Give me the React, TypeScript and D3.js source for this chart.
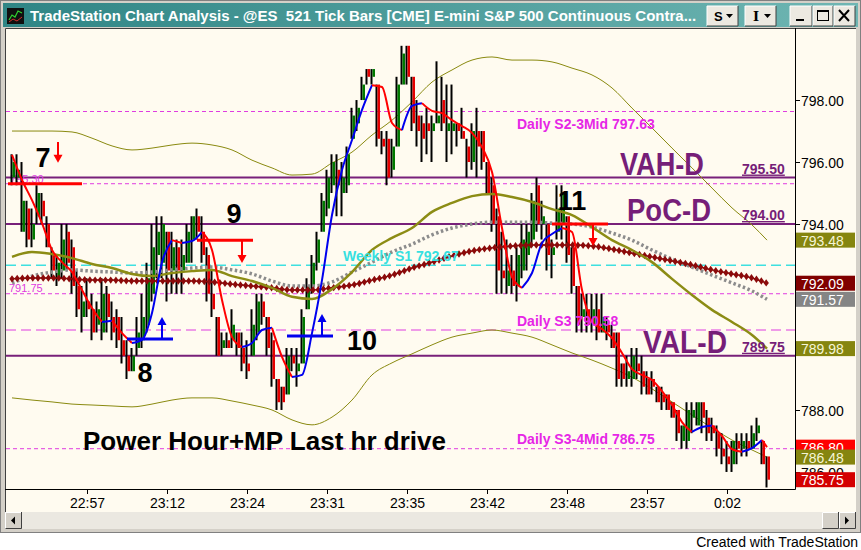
import { useEffect, useRef } from 'react';
import * as d3 from 'd3';

const W = 861;
const H = 550;

// one row per 521-tick bar: [high, low, open, close]
const bars: [number, number, number, number][] = [
  [796.25, 795.25, 795.5, 796.0], [796.25, 795.25, 795.5, 795.75], [796.0, 793.75, 793.75, 794.75], [794.75, 793.25, 794.5, 793.5],
  [794.5, 793.25, 793.5, 794.0], [795.25, 794.0, 794.25, 795.0], [795.0, 794.0, 794.75, 794.25], [794.25, 793.25, 794.0, 793.25],
  [793.25, 792.25, 793.0, 792.5], [793.0, 792.0, 792.25, 792.75], [794.0, 792.25, 792.5, 793.5], [794.0, 792.5, 793.75, 792.75],
  [793.5, 791.75, 793.25, 792.0], [792.5, 791.0, 792.0, 791.25], [792.0, 790.5, 791.0, 791.5], [792.25, 791.0, 791.5, 791.25],
  [791.75, 790.25, 791.25, 790.5], [791.5, 790.5, 790.75, 791.25], [792.25, 790.25, 790.5, 791.75], [792.0, 790.5, 791.75, 791.0],
  [791.5, 790.25, 791.0, 790.5], [791.25, 790.0, 791.0, 790.25], [791.0, 789.5, 790.25, 789.75], [790.25, 789.0, 789.75, 789.25],
  [790.0, 789.25, 789.25, 789.75], [791.0, 789.75, 790.0, 790.5], [791.75, 790.0, 790.25, 791.0], [792.75, 790.5, 790.75, 792.25],
  [794.0, 791.5, 791.75, 793.25], [794.25, 792.25, 793.0, 793.75], [794.25, 792.25, 792.75, 794.0], [793.75, 791.5, 793.75, 792.5],
  [793.75, 791.75, 792.5, 793.25], [793.5, 791.75, 793.25, 792.5], [793.5, 791.75, 792.5, 793.0], [794.0, 792.75, 792.75, 793.75],
  [794.25, 792.75, 793.5, 794.25], [794.5, 793.5, 794.25, 793.75], [794.25, 792.75, 793.75, 793.0], [793.25, 791.5, 793.0, 791.75],
  [792.5, 791.0, 791.75, 791.25], [791.0, 789.75, 791.0, 789.75], [790.5, 789.75, 790.0, 790.25], [790.5, 790.0, 790.25, 790.0],
  [791.25, 790.0, 790.25, 790.75], [790.5, 789.75, 790.5, 790.0], [790.5, 789.25, 790.0, 789.5], [790.25, 789.0, 789.5, 789.25],
  [791.25, 789.75, 789.75, 790.75], [791.75, 790.25, 790.5, 791.5], [791.75, 790.75, 791.5, 791.0], [791.0, 789.75, 791.0, 790.0],
  [790.5, 788.75, 790.25, 789.0], [789.0, 788.0, 789.0, 788.25], [788.75, 788.0, 788.75, 788.25], [790.0, 788.5, 788.5, 789.75],
  [790.0, 789.25, 789.75, 789.5], [790.0, 788.75, 789.25, 789.5], [791.25, 789.5, 789.5, 791.0], [792.25, 791.25, 791.25, 792.0],
  [793.0, 791.75, 792.0, 792.75], [793.75, 792.5, 792.75, 793.5], [795.0, 793.75, 793.75, 794.75], [795.75, 794.25, 794.5, 795.5],
  [796.25, 795.0, 795.25, 796.0], [796.25, 794.25, 795.75, 795.25], [796.0, 794.25, 795.0, 795.5], [796.5, 795.0, 795.25, 796.25],
  [797.75, 796.75, 796.75, 797.5], [798.0, 797.0, 797.25, 797.75], [798.75, 798.0, 798.0, 798.5], [799.0, 798.5, 799.0, 798.75],
  [799.0, 798.5, 798.75, 799.0], [798.5, 796.5, 798.5, 796.75], [797.0, 796.25, 796.75, 796.5], [797.0, 795.25, 796.75, 795.5],
  [796.75, 795.5, 795.75, 796.5], [798.75, 796.5, 796.5, 798.5], [799.75, 798.5, 798.5, 799.5], [799.75, 798.5, 799.75, 798.75],
  [798.75, 797.0, 798.75, 797.25], [798.0, 796.5, 797.5, 797.0], [797.5, 796.0, 797.25, 796.75], [797.75, 796.25, 797.25, 797.0],
  [797.5, 796.0, 797.0, 797.25], [799.25, 797.25, 797.25, 797.5], [798.75, 797.0, 798.0, 797.25], [798.5, 796.0, 797.0, 797.25],
  [798.5, 796.25, 797.0, 797.25], [797.25, 796.5, 797.25, 797.0], [797.75, 796.75, 797.0, 796.75], [796.75, 795.5, 796.5, 796.0],
  [797.25, 795.75, 796.0, 797.0], [797.75, 795.5, 797.0, 796.5], [797.0, 795.75, 797.0, 796.0], [796.0, 795.0, 796.0, 795.0],
  [795.5, 793.75, 795.25, 794.0], [794.5, 791.75, 794.25, 792.5], [793.75, 791.75, 792.5, 792.25], [793.5, 791.75, 792.0, 792.5],
  [793.0, 791.75, 792.5, 792.0], [793.25, 791.5, 792.0, 793.0], [794.0, 792.25, 792.5, 793.5], [794.0, 792.5, 793.0, 793.75],
  [795.0, 793.25, 793.5, 794.75], [795.5, 793.75, 795.25, 794.0], [794.75, 793.5, 794.0, 794.25], [794.0, 792.5, 794.0, 793.0],
  [793.5, 792.25, 793.0, 793.25], [795.25, 793.5, 793.75, 794.5], [795.25, 793.5, 794.0, 795.0], [794.25, 792.75, 794.25, 793.0],
  [793.25, 791.75, 793.25, 792.0], [792.0, 790.5, 792.0, 790.75], [791.75, 790.5, 791.0, 791.25], [791.75, 790.5, 791.25, 790.75],
  [791.75, 790.5, 790.75, 791.25], [791.75, 790.25, 791.25, 790.5], [791.75, 790.5, 790.5, 791.0], [791.0, 790.25, 790.75, 790.5],
  [790.75, 790.0, 790.5, 790.0], [790.5, 788.75, 790.5, 789.0], [789.5, 788.75, 789.5, 789.0], [789.75, 788.75, 789.0, 789.25],
  [790.0, 788.75, 789.0, 789.75], [790.0, 789.0, 789.5, 789.25], [789.75, 788.5, 789.25, 788.75], [789.25, 788.5, 789.0, 788.5],
  [789.25, 788.5, 789.0, 788.75], [788.75, 788.25, 788.75, 788.25], [788.75, 788.0, 788.5, 788.25], [788.5, 788.0, 788.5, 788.0],
  [788.25, 787.75, 788.25, 787.75], [788.0, 787.0, 788.0, 787.25], [787.5, 786.75, 787.0, 787.5], [788.25, 786.75, 787.0, 788.0],
  [788.25, 787.25, 787.75, 788.0], [788.25, 787.5, 787.5, 788.25], [788.25, 787.25, 788.25, 787.75], [788.0, 787.0, 787.75, 787.25],
  [787.75, 787.0, 787.5, 787.25], [787.5, 786.5, 787.25, 786.75], [787.25, 786.25, 786.75, 786.5], [787.0, 786.0, 786.5, 786.25],
  [787.0, 786.0, 786.25, 787.0], [787.25, 786.25, 787.0, 786.75], [787.25, 786.5, 786.75, 787.0], [787.25, 786.5, 787.0, 786.75],
  [787.5, 786.75, 786.75, 787.25], [787.75, 787.0, 787.25, 787.5], [787.0, 786.25, 787.0, 786.25], [786.5, 785.5, 786.5, 785.75],
];

const timeLabels = ['22:57', '23:12', '23:24', '23:31', '23:35', '23:42', '23:48', '23:57', '0:02'];
const timeTickBars = [15, 31, 47, 63, 79, 95, 111, 127, 143];
const priceTicks = [786, 788, 790, 792, 794, 796, 798];

// indicator readings every 4th bar, plus the last bar
const indBars = [...d3.range(0, 149, 4), 151];
const oliveAvg = [
  792.94, 793.1, 793.03, 792.9, 792.71, 792.58, 792.39, 792.32, 792.42, 792.48, 792.52, 792.32, 792.16, 791.94, 791.65,
  791.58, 791.9, 792.45, 793.16, 793.55, 793.87, 794.39, 794.68, 794.9, 794.97, 794.87, 794.71, 794.48, 794.29, 793.9,
  793.48, 793.16, 792.77, 792.23, 791.71, 791.23, 790.84, 790.42, 789.98,
];
const upperBand = [
  797.0, 797.0, 797.0, 796.97, 796.77, 796.52, 796.39, 796.45, 796.55, 796.61, 796.55, 796.39, 796.06, 795.81, 795.58,
  795.61, 795.97, 796.32, 796.87, 797.35, 797.94, 798.58, 798.97, 799.29, 799.39, 799.29, 799.29, 799.23, 799.03, 798.81,
  798.39, 797.74, 797.1, 796.45, 795.81, 795.16, 794.52, 793.97, 793.48,
];
const lowerBand = [
  788.39, 788.32, 788.26, 788.19, 788.16, 788.13, 788.1, 788.19, 788.32, 788.39, 788.39, 788.29, 788.16, 788.0, 787.68,
  787.52, 787.77, 788.32, 789.13, 789.52, 789.81, 790.1, 790.35, 790.48, 790.58, 790.48, 790.35, 790.1, 789.84, 789.61,
  789.35, 789.06, 788.68, 788.26, 787.84, 787.42, 787.03, 786.71, 786.48,
];
const grayAvg = [
  792.1, 792.32, 792.45, 792.52, 792.48, 792.45, 792.42, 792.45, 792.52, 792.58, 792.61, 792.52, 792.39, 792.16, 792.0,
  792.0, 792.13, 792.45, 792.77, 793.1, 793.35, 793.65, 793.87, 794.0, 794.06, 794.06, 794.06, 794.03, 794.0, 793.9,
  793.71, 793.48, 793.16, 792.87, 792.61, 792.35, 792.1, 791.84, 791.57,
];
const diamondAvg = [
  792.23, 792.26, 792.26, 792.23, 792.19, 792.19, 792.16, 792.16, 792.16, 792.16, 792.13, 792.06, 792.0, 791.94, 791.87,
  791.87, 791.94, 792.03, 792.19, 792.35, 792.58, 792.77, 792.97, 793.13, 793.23, 793.29, 793.32, 793.32, 793.32, 793.29,
  793.19, 793.06, 792.94, 792.81, 792.68, 792.52, 792.39, 792.26, 792.09,
];

// fast smoothing line, every 2nd bar plus the last
const fastBars = [...d3.range(0, 151, 2), 151];
const fastAvg = [
  796.23, 795.42, 794.77, 794.03, 793.16, 792.77, 792.45, 791.87, 791.29, 790.84, 790.88, 790.48, 790.16, 790.26, 791.13,
  792.77, 793.48, 793.39, 793.45, 793.74, 793.16, 791.55, 790.35, 790.03, 790.16, 790.58, 790.65, 789.71, 789.06, 789.13,
  790.48, 792.19, 794.29, 795.74, 796.71, 797.68, 798.48, 798.42, 797.26, 797.03, 797.81, 797.9, 797.65, 797.58, 797.35,
  797.16, 796.94, 796.48, 795.68, 793.87, 792.29, 791.94, 792.42, 793.39, 793.68, 793.87, 793.74, 791.87, 790.84, 790.61,
  790.32, 789.84, 789.32, 789.13, 788.97, 788.61, 788.16, 787.61, 787.29, 787.45, 787.5, 787.16, 786.74, 786.65, 786.77,
  787.03, 786.8,
];

const valueArea = [795.5, 794.0, 789.75];
const valueAreaNames = ['VAH-D', 'PoC-D', 'VAL-D'];
const magentaLevels = [797.63, 795.3, 791.75, 786.75];
const dailyS3 = 790.58;
const weeklyS1 = 792.67;

// numbered trade signals: horizontal line from/to bar at price, arrow, and number
const signalNames = ['7', '8', '9', '10', '11'];
const signalFrom = [-0.8, 23, 37, 55, 108];
const signalTo = [14, 32.2, 48.2, 64.2, 119.2];
const signalPrice = [795.3, 790.29, 793.48, 790.39, 794.0];
const signalLong = [false, true, false, true, false];
const arrowBar = [9.2, 30, 46, 62, 116.2];
const arrowFrom = [796.65, 790.29, 793.48, 790.39, 794.0];
const arrowTo = [795.98, 791.0, 792.74, 791.1, 793.29];
const numberBar = [6.2, 26.6, 44.4, 70, 112];
const numberPrice = [796.16, 789.23, 794.35, 790.26, 794.77];

const note = 'Power Hour+MP Last hr drive';

export default function App() {
  const svgRef = useRef<SVGSVGElement>(null);

  useEffect(() => {
    if (!svgRef.current) return;
    const svg = d3.select(svgRef.current);
    svg.selectAll('*').remove();
    const font = 'Arial, "Liberation Sans", sans-serif';

    const x = d3.scaleLinear().domain([0, bars.length - 1]).range([12, 767]);
    const y = d3.scaleLinear().domain([785.45, 800.26]).range([489, 30]);

    const defs = svg.append('defs');
    const grad = defs.append('linearGradient').attr('id', 'title-grad').attr('x1', '0%').attr('x2', '100%');
    grad.append('stop').attr('offset', '0%').attr('stop-color', '#2f8585');
    grad.append('stop').attr('offset', '100%').attr('stop-color', '#6fb6b3');
    defs.append('clipPath').attr('id', 'plot-clip')
      .append('rect').attr('x', 6).attr('y', 30).attr('width', 789).attr('height', 459);

    // window chrome
    svg.append('rect').attr('width', W).attr('height', H).attr('fill', '#ffffff');
    svg.append('rect').attr('width', W).attr('height', 533).attr('fill', '#d4d0c8');
    svg.append('rect').attr('x', 0.5).attr('y', 0.5).attr('width', W - 1).attr('height', 532)
      .attr('fill', 'none').attr('stroke', '#808080');
    svg.append('rect').attr('x', 3).attr('y', 3).attr('width', 855).attr('height', 24).attr('fill', 'url(#title-grad)');

    // app icon
    svg.append('rect').attr('x', 7).attr('y', 8).attr('width', 17).attr('height', 16).attr('fill', '#101010');
    svg.append('path').attr('d', 'M9,20 L12,15 L15,17 L18,11 L22,13').attr('fill', 'none')
      .attr('stroke', '#30d030').attr('stroke-width', 1.2);
    svg.append('path').attr('d', 'M9,22 L13,19 L17,21 L22,17').attr('fill', 'none')
      .attr('stroke', '#d03030').attr('stroke-width', 1);

    svg.append('text').attr('x', 30).attr('y', 21)
      .style('font-family', font).style('font-size', '15px').style('font-weight', 'bold').style('fill', '#ffffff')
      .style('white-space', 'pre')
      .text('TradeStation Chart Analysis - @ES  521 Tick Bars [CME] E-mini S&P 500 Continuous Contra...');

    const button = (bx: number, bw: number) => {
      svg.append('rect').attr('x', bx).attr('y', 6).attr('width', bw).attr('height', 20).attr('fill', '#ece9e1');
      svg.append('path').attr('d', `M${bx},${26} V6 H${bx + bw}`).attr('fill', 'none').attr('stroke', '#ffffff');
      svg.append('path').attr('d', `M${bx},${26} H${bx + bw} V6`).attr('fill', 'none').attr('stroke', '#404040');
    };
    button(707, 31);
    button(745, 31);
    button(790, 22);
    button(813, 20);
    button(834, 21);
    svg.append('text').attr('x', 714).attr('y', 21).style('font-family', font).style('font-size', '13px')
      .style('font-weight', 'bold').text('S');
    svg.append('text').attr('x', 753).attr('y', 21).style('font-family', '"DejaVu Serif", serif').style('font-size', '13px')
      .style('font-weight', 'bold').text('I');
    [726, 764].forEach((ax) => {
      svg.append('path').attr('d', `M${ax},14 h7 l-3.5,4 z`).attr('fill', '#000');
    });
    svg.append('rect').attr('x', 796).attr('y', 19).attr('width', 8).attr('height', 2).attr('fill', '#000');
    svg.append('rect').attr('x', 817.5).attr('y', 10.5).attr('width', 11).attr('height', 10)
      .attr('fill', 'none').attr('stroke', '#000').attr('stroke-width', 1);
    svg.append('rect').attr('x', 817.5).attr('y', 10.5).attr('width', 11).attr('height', 1.5).attr('fill', '#000');
    svg.append('path').attr('d', 'M839,10 L849,21 M849,10 L839,21').attr('stroke', '#000').attr('stroke-width', 2);

    // chart background
    svg.append('rect').attr('x', 5).attr('y', 28).attr('width', 851).attr('height', 484).attr('fill', '#fffbf0');
    svg.append('path').attr('d', 'M5.5,512 V28.5 H856').attr('fill', 'none').attr('stroke', '#404040');

    // scrollbar
    svg.append('rect').attr('x', 5).attr('y', 512).attr('width', 851).attr('height', 17).attr('fill', '#ebe8e1');
    const scrollBtn = (bx: number) => {
      svg.append('rect').attr('x', bx).attr('y', 512).attr('width', 17).attr('height', 17).attr('fill', '#d4d0c8');
      svg.append('path').attr('d', `M${bx + 0.5},529 V512.5 H${bx + 17}`).attr('fill', 'none').attr('stroke', '#ffffff');
      svg.append('path').attr('d', `M${bx + 0.5},528.5 H${bx + 16.5} V512`).attr('fill', 'none').attr('stroke', '#404040');
    };
    scrollBtn(5);
    scrollBtn(822);
    scrollBtn(839);
    svg.append('path').attr('d', 'M11,520.5 l4,-4 v8 z').attr('fill', '#000');
    svg.append('path').attr('d', 'M849,520.5 l-4,-4 v8 z').attr('fill', '#000');

    svg.append('text').attr('x', 858).attr('y', 547).attr('text-anchor', 'end')
      .style('font-family', font).style('font-size', '14px').style('fill', '#000')
      .text('Created with TradeStation');

    const plot = svg.append('g').attr('clip-path', 'url(#plot-clip)');

    // pivot levels
    magentaLevels.forEach((p) => {
      plot.append('line').attr('x1', 6).attr('x2', 795).attr('y1', y(p)).attr('y2', y(p))
        .attr('stroke', '#e03ce0').attr('stroke-width', 1).attr('stroke-dasharray', '4,3');
    });
    plot.append('line').attr('x1', 6).attr('x2', 795).attr('y1', y(dailyS3)).attr('y2', y(dailyS3))
      .attr('stroke', '#e03ce0').attr('stroke-width', 1.2).attr('stroke-dasharray', '10,5');
    plot.append('line').attr('x1', 6).attr('x2', 795).attr('y1', y(weeklyS1)).attr('y2', y(weeklyS1))
      .attr('stroke', '#3ee0e0').attr('stroke-width', 1.5).attr('stroke-dasharray', '10,5');
    valueArea.forEach((p) => {
      plot.append('line').attr('x1', 6).attr('x2', 795).attr('y1', y(p)).attr('y2', y(p))
        .attr('stroke', '#78207a').attr('stroke-width', 2.2);
    });

    // small left labels
    plot.append('text').attr('x', 9).attr('y', y(791.75) - 1.5)
      .style('font-family', font).style('font-size', '11px').style('fill', '#e03ce0').text('791.75');
    plot.append('text').attr('x', 10).attr('y', y(795.3) - 1)
      .style('font-family', font).style('font-size', '11px').style('fill', '#e03ce0').text('795.30');

    // bands and averages
    const indLine = d3.line<number>().x((_, k) => x(indBars[k])).y((d) => y(d)).curve(d3.curveMonotoneX);
    plot.append('path').attr('d', indLine(upperBand)).attr('fill', 'none').attr('stroke', '#8a8a10').attr('stroke-width', 1);
    plot.append('path').attr('d', indLine(lowerBand)).attr('fill', 'none').attr('stroke', '#8a8a10').attr('stroke-width', 1);

    // price bars
    const gBars = plot.append('g');
    bars.forEach(([h, l, o, c], i) => {
      const cx = x(i);
      gBars.append('line').attr('x1', cx - 0.5).attr('x2', cx - 0.5).attr('y1', y(h)).attr('y2', y(l))
        .attr('stroke', '#000').attr('stroke-width', 2);
      if (o !== c) {
        const top = y(Math.max(o, c));
        const bot = y(Math.min(o, c));
        gBars.append('rect').attr('x', cx + 0.5).attr('y', top).attr('width', 2.5).attr('height', Math.max(2, bot - top))
          .attr('fill', c > o ? '#007a00' : '#e60000');
      }
    });

    plot.append('path').attr('d', indLine(grayAvg)).attr('fill', 'none').attr('stroke', '#8c8c8c')
      .attr('stroke-width', 3.5).attr('stroke-dasharray', '2.5,2.5');
    const dPath = plot.append('path').attr('d', indLine(diamondAvg)).attr('fill', 'none')
      .attr('stroke', '#8b0a0a').attr('stroke-width', 1.5);
    const node = dPath.node() as SVGPathElement;
    const total = node.getTotalLength();
    const diamond = d3.symbol().type(d3.symbolDiamond).size(16);
    for (let s = 0; s <= total; s += 5.2) {
      const pt = node.getPointAtLength(s);
      plot.append('path').attr('d', diamond()).attr('transform', `translate(${pt.x},${pt.y}) scale(1.25,1)`)
        .attr('fill', '#8b0a0a');
    }
    plot.append('path').attr('d', indLine(oliveAvg)).attr('fill', 'none').attr('stroke', '#8c8c14').attr('stroke-width', 2.5);

    // fast smoothing line, red falling / blue rising
    const fastLine = d3.line<number>().x((d) => x(fastBars[d])).y((d) => y(fastAvg[d])).curve(d3.curveMonotoneX);
    let run: number[] = [0];
    let rising = fastAvg[1] >= fastAvg[0];
    const flush = (up: boolean) => {
      plot.append('path').attr('d', fastLine(run)).attr('fill', 'none')
        .attr('stroke', up ? '#0000ee' : '#ff0000').attr('stroke-width', 2);
    };
    for (let k = 1; k < fastAvg.length; k++) {
      const up = fastAvg[k] >= fastAvg[k - 1];
      if (up !== rising) {
        flush(rising);
        run = [k - 1];
        rising = up;
      }
      run.push(k);
    }
    flush(rising);

    // trade signals
    signalNames.forEach((name, k) => {
      const col = signalLong[k] ? '#0000ee' : '#ff0000';
      plot.append('line').attr('x1', x(signalFrom[k])).attr('x2', x(signalTo[k]))
        .attr('y1', y(signalPrice[k])).attr('y2', y(signalPrice[k])).attr('stroke', col).attr('stroke-width', 3);
      const ax = x(arrowBar[k]);
      const y0 = y(arrowFrom[k]);
      const y1 = y(arrowTo[k]);
      const dir = y1 > y0 ? 1 : -1;
      plot.append('line').attr('x1', ax).attr('x2', ax).attr('y1', y0).attr('y2', y1 - dir * 6)
        .attr('stroke', col).attr('stroke-width', 2);
      plot.append('path').attr('d', `M${ax - 4.5},${y1 - dir * 8} L${ax + 4.5},${y1 - dir * 8} L${ax},${y1} Z`)
        .attr('fill', col);
      plot.append('text').attr('x', x(numberBar[k])).attr('y', y(numberPrice[k]) + 10).attr('text-anchor', 'middle')
        .style('font-family', font).style('font-size', '27px').style('font-weight', 'bold').style('fill', '#000')
        .text(name);
    });

    // level captions
    const caption = (txt: string, bar: number, py: number, col: string) => {
      plot.append('text').attr('x', x(bar)).attr('y', py)
        .style('font-family', font).style('font-size', '14px').style('font-weight', 'bold').style('fill', col)
        .text(txt);
    };
    caption(`Daily S2-3Mid ${magentaLevels[0].toFixed(2)}`, 101, y(magentaLevels[0]) + 17, '#e626e6');
    caption(`Daily S3 ${dailyS3.toFixed(2)}`, 101, y(dailyS3) - 4, '#e626e6');
    caption(`Daily S3-4Mid ${magentaLevels[3].toFixed(2)}`, 101, y(magentaLevels[3]) - 5, '#e626e6');
    caption(`Weekly S1 ${weeklyS1.toFixed(2)}`, 66.2, y(weeklyS1) - 4, '#36e0e0');

    // value-area names, narrow and tall as drawn by the platform
    const vaStart = [121.6, 123, 126.2];
    valueArea.forEach((p, k) => {
      plot.append('text').attr('x', x(vaStart[k])).attr('y', y(p) - 3)
        .attr('textLength', 84).attr('lengthAdjust', 'spacingAndGlyphs')
        .style('font-family', font).style('font-size', '31px').style('font-weight', 'bold').style('fill', '#761e78')
        .text(valueAreaNames[k]);
      plot.append('text').attr('x', x(146)).attr('y', y(p) - 4)
        .style('font-family', font).style('font-size', '14px').style('font-weight', 'bold').style('fill', '#761e78')
        .style('text-decoration', 'underline').text(p.toFixed(2));
    });

    plot.append('text').attr('x', x(14.2)).attr('y', y(786.71))
      .style('font-family', font).style('font-size', '26px').style('font-weight', 'bold').style('fill', '#000')
      .text(note);

    // last-value boxes
    const last = (arr: number[]) => arr[arr.length - 1];
    const boxes: [number, string, string][] = [
      [last(upperBand), '#85850f', '#f6f6d6'],
      [last(diamondAvg), '#800000', '#ffffff'],
      [last(grayAvg), '#858585', '#ffffff'],
      [last(oliveAvg), '#85850f', '#f6f6d6'],
      [last(fastAvg), '#ff0000', '#ffffff'],
      [last(lowerBand), '#85850f', '#f6f6d6'],
      [bars[bars.length - 1][3], '#d40000', '#ffffff'],
    ];

    // axes
    svg.append('line').attr('x1', 795.5).attr('x2', 795.5).attr('y1', 28).attr('y2', 489.5).attr('stroke', '#000');
    svg.append('line').attr('x1', 5).attr('x2', 795.5).attr('y1', 489.5).attr('y2', 489.5).attr('stroke', '#000');
    timeTickBars.forEach((b, k) => {
      const tx = Math.round(x(b)) + 0.5;
      svg.append('line').attr('x1', tx).attr('x2', tx).attr('y1', 489).attr('y2', 494).attr('stroke', '#000');
      svg.append('text').attr('x', tx).attr('y', 508).attr('text-anchor', 'middle')
        .style('font-family', font).style('font-size', '14px').style('fill', '#000').text(timeLabels[k]);
    });
    priceTicks.forEach((p) => {
      const ty = Math.round(y(p)) + 0.5;
      svg.append('line').attr('x1', 795).attr('x2', 800).attr('y1', ty).attr('y2', ty).attr('stroke', '#000');
      // labels fully hidden under a last-value box are not drawn
      const hidden = boxes.some(([v]) => Math.abs(y(v) - ty) < 4);
      if (!hidden) {
        svg.append('text').attr('x', 801).attr('y', ty + 5)
          .style('font-family', font).style('font-size', '14px').style('fill', '#000').text(p.toFixed(2));
      }
    });

    boxes.forEach(([v, fill, txt]) => {
      svg.append('rect').attr('x', 796).attr('y', y(v) - 7.5).attr('width', 59).attr('height', 15).attr('fill', fill);
      svg.append('text').attr('x', 801).attr('y', y(v) + 5.5)
        .style('font-family', font).style('font-size', '14px').style('fill', txt).text(v.toFixed(2));
    });
  }, []);

  return (
    <svg
      ref={svgRef}
      width={W}
      height={H}
      style={{ position: 'absolute', left: 0, top: 0, display: 'block' }}
    />
  );
}
